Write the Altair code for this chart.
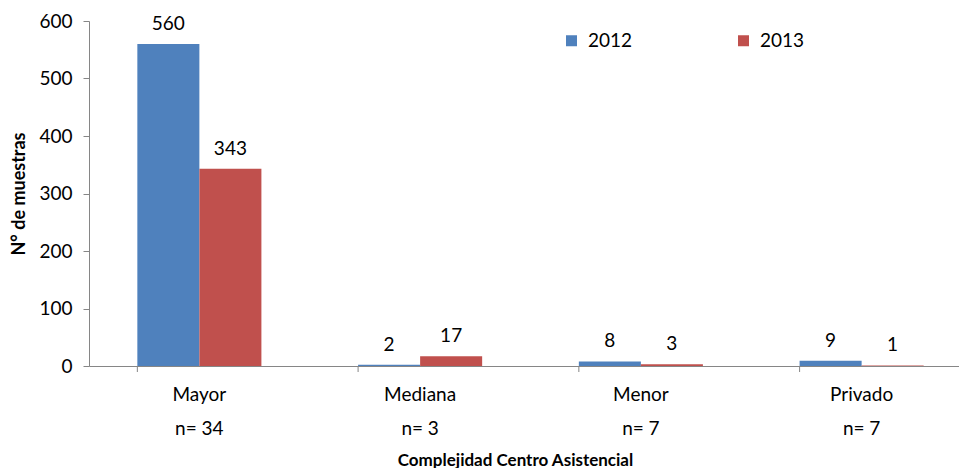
import altair as alt
import pandas as pd

categories = ["Mayor", "Mediana", "Menor", "Privado"]
n_labels = ["n= 34", "n= 3", "n= 7", "n= 7"]
years = ["2012", "2013"]
v2012 = [560, 2, 8, 9]
v2013 = [343, 17, 3, 1]

cat_keys = [f"{c}|{n}" for c, n in zip(categories, n_labels)]
rows = []
for k, a, b in zip(cat_keys, v2012, v2013):
    rows.append({"cat": k, "year": years[0], "value": a})
    rows.append({"cat": k, "year": years[1], "value": b})
df = pd.DataFrame(rows)
df_cat = pd.DataFrame({"cat": cat_keys})

FONT = "Lato"
FS = 19
AXIS_GRAY = "#868686"

xscale = alt.Scale(domain=cat_keys, range=[0, 883], paddingInner=0.438, paddingOuter=0.219)
yscale = alt.Scale(domain=[0, 600])
color = alt.Color("year:N", scale=alt.Scale(domain=years, range=["#4F81BD", "#C0504D"]),
                  legend=alt.Legend(title=None, orient="none", legendX=473, legendY=10,
                                    direction="horizontal", symbolType="square", symbolSize=121,
                                    symbolStrokeWidth=0, labelFontSize=FS, labelFont=FONT,
                                    labelOffset=7, columnPadding=101, labelColor="#000000"))

x_enc = alt.X("cat:N", scale=xscale, sort=cat_keys,
              axis=alt.Axis(title="Complejidad  Centro Asistencial", titleFont=FONT, titleFontSize=17,
                            titleFontWeight="bold", titleColor="#000000", titleX=426, titleY=99,
                            titleBaseline="alphabetic", titleAnchor="start", titleAlign="center",
                            labelExpr="split(datum.label, '|')", labelFont=FONT, labelFontSize=FS,
                            labelColor="#000000", labelAngle=0, labelLineHeight=34,
                            labelPadding=19, ticks=False, domainColor=AXIS_GRAY))

bars = alt.Chart(df).mark_bar().encode(
    x=x_enc,
    xOffset=alt.XOffset("year:N", sort=years),
    y=alt.Y("value:Q", scale=yscale,
            axis=alt.Axis(title="N° de muestras", titleFont=FONT, titleFontSize=18, titleFontWeight="bold",
                          titleColor="#000000", titlePadding=10, values=[0, 100, 200, 300, 400, 500, 600],
                          grid=False, tickSize=6, tickColor=AXIS_GRAY, domainColor=AXIS_GRAY,
                          labelFont=FONT, labelFontSize=FS, labelColor="#000000", labelPadding=11)),
    color=color,
)

labels = alt.Chart(df).mark_text(baseline="alphabetic", dy=-14, font=FONT, fontSize=FS, color="#000000").encode(
    x=alt.X("cat:N", sort=cat_keys),
    xOffset=alt.XOffset("year:N", sort=years),
    y=alt.Y("value:Q"),
    text=alt.Text("value:Q"),
)

ticks = alt.Chart(df_cat).mark_rule(color=AXIS_GRAY).encode(
    x=alt.X("cat:N", sort=cat_keys, bandPosition=0),
    y=alt.value(345),
    y2=alt.value(351),
)

chart = alt.layer(bars, labels, ticks).properties(
    width=870, height=345,
    autosize=alt.AutoSizeParams(type="none"),
    padding={"left": 89, "top": 21, "right": 0, "bottom": 102},
).configure_view(stroke=None)

chart.save("out.html", embed_options={"renderer": "svg", "actions": False})
